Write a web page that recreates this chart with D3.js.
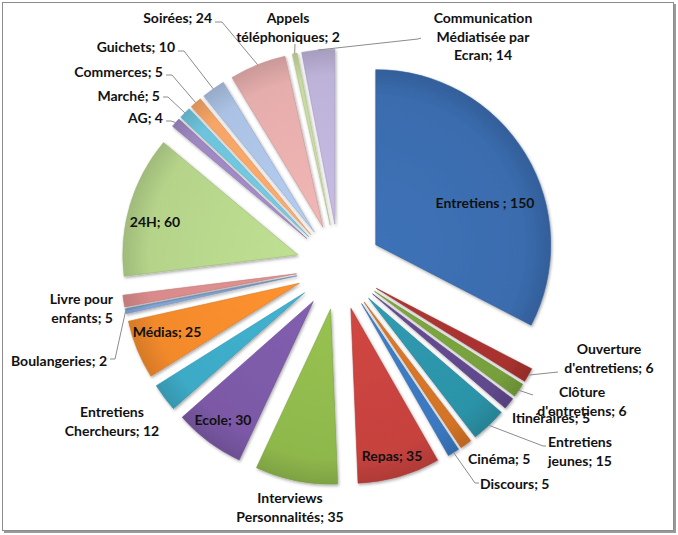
<!DOCTYPE html>
<html><head><meta charset="utf-8">
<script src="https://cdn.jsdelivr.net/npm/d3@7"></script>
<style>
html,body{margin:0;padding:0;background:#fff;}
svg{display:block;}
text{font-family:Lato,"Open Sans",sans-serif;font-weight:bold;font-size:14px;fill:#111;}
</style></head>
<body>
<svg id="chart" width="678" height="535"></svg>
<script>
const categories = ["Entretiens","Ouverture d'entretiens","Clôture d'entretiens","Itinéraires","Entretiens jeunes","Cinéma","Discours","Repas","Interviews Personnalités","Ecole","Entretiens Chercheurs","Médias","Boulangeries","Livre pour enfants","24H","AG","Marché","Commerces","Guichets","Soirées","Appels téléphoniques","Communication Médiatisée par Ecran"];
const values = [150,6,6,5,15,5,5,35,35,30,12,25,2,5,60,4,5,5,10,24,2,14];
const labelTexts = [["Entretiens ; 150"],["Ouverture","d'entretiens; 6"],["Clôture","d'entretiens; 6"],["Itinéraires; 5"],["Entretiens","jeunes; 15"],["Cinéma; 5"],["Discours; 5"],["Repas; 35"],["Interviews","Personnalités; 35"],["Ecole; 30"],["Entretiens","Chercheurs; 12"],["Médias; 25"],["Boulangeries; 2"],["Livre pour","enfants; 5"],["24H; 60"],["AG; 4"],["Marché; 5"],["Commerces; 5"],["Guichets; 10"],["Soirées; 24"],["Appels","téléphoniques; 2"],["Communication","Médiatisée par","Ecran; 14"]];

// style: colours
const colors = ["#3A6CAE","#A8322F","#77A03C","#61488C","#2C93A8","#D47326","#3A78C0","#C6423E","#8FB84C","#7B59A6","#3DAAC6","#F38A2C","#86A9D9","#D98A8A","#B5D48A","#9E88C2","#6DC4DC","#F7A566","#ABC2E4","#E5ADAC","#C6DA9E","#BDB2D8"];

// layout: label placement [x, y(first line centre), anchor, leader end point or null]
const labelLayout = [
  [485,202,"middle",null],
  [609,348,"middle",[[558,372]]],
  [582,391,"middle",[[533,395]]],
  [512,417,"start",null],
  [580,441,"middle",[[543,446],[546,446]]],
  [468,458,"start",null],
  [480,483,"start",[[475,483],[479,483]]],
  [392,455,"middle",null],
  [290,497,"middle",null],
  [223,419,"middle",null],
  [112,411,"middle",null],
  [167,331,"middle",null],
  [107,360,"end",[[115,359],[110,359]]],
  [113,298,"end",null],
  [155,221,"middle",null],
  [163,117,"end",[[171,121],[166,121]]],
  [160,95,"end",[[168,97],[163,97]]],
  [163,71,"end",[[172,75],[166,75]]],
  [175,46,"end",[[184,51],[178,51]]],
  [212,17,"end",[[222,22],[215,22]]],
  [288,17,"middle",[[295,44]]],
  [483,17,"middle",[[418,39],[421,38]]]
];

const W = 678, H = 535;
const cx = 339, cy = 267, R = 175, explode = 43, lineH = 18.5;
const svg = d3.select("#chart");

// frame with shadow
svg.append("rect").attr("x",4).attr("y",4).attr("width",672).attr("height",529).attr("fill","#9a9a9a");
svg.append("rect").attr("x",2.5).attr("y",2.5).attr("width",671).attr("height",528).attr("fill","#fff").attr("stroke","#8c8c8c").attr("stroke-width",1);

const defs = svg.append("defs");
const f = defs.append("filter").attr("id","sh").attr("x","-20%").attr("y","-20%").attr("width","140%").attr("height","140%");
f.append("feDropShadow").attr("dx",1).attr("dy",1.5).attr("stdDeviation",1.5).attr("flood-color","#000").attr("flood-opacity",0.35);

const data = categories.map((c,i)=>({name:c,value:values[i],i}));
const pie = d3.pie().sort(null).value(d=>d.value).startAngle(0).endAngle(2*Math.PI);
const arcs = pie(data);
const arc = d3.arc().innerRadius(0).outerRadius(R);

arcs.forEach((a,i)=>{
  const g = defs.append("radialGradient").attr("id","g"+i).attr("gradientUnits","userSpaceOnUse")
    .attr("cx",0).attr("cy",0).attr("r",R);
  const c = d3.color(colors[i]);
  g.append("stop").attr("offset","0%").attr("stop-color",c.brighter(0.15));
  g.append("stop").attr("offset","85%").attr("stop-color",c);
  g.append("stop").attr("offset","100%").attr("stop-color",c.darker(0.35));
});

const gPie = svg.append("g").attr("transform",`translate(${cx},${cy})`);
gPie.selectAll("path").data(arcs).join("path")
  .attr("transform",d=>{const m=(d.startAngle+d.endAngle)/2;return `translate(${explode*Math.sin(m)},${-explode*Math.cos(m)})`;})
  .attr("d",arc)
  .attr("fill",(d,i)=>`url(#g${i})`)
  .attr("stroke",(d,i)=>d3.color(colors[i]).darker(0.4))
  .attr("stroke-width",0.6)
  .attr("stroke-linejoin","round")
  .attr("filter","url(#sh)");

// leader lines
arcs.forEach((a,i)=>{
  const L = labelLayout[i];
  if(!L[3]) return;
  const m=(a.startAngle+a.endAngle)/2;
  const rr = R+explode;
  const p0=[cx+rr*Math.sin(m), cy-rr*Math.cos(m)];
  const pts=[p0].concat(L[3]);
  svg.append("path").attr("d",d3.line()(pts)).attr("fill","none").attr("stroke","#8c8c8c").attr("stroke-width",1);
});

// labels
arcs.forEach((a,i)=>{
  const L = labelLayout[i];
  const t = svg.append("text").attr("text-anchor",L[2]).attr("dominant-baseline","central");
  labelTexts[i].forEach((s,k)=>{
    t.append("tspan").attr("x",L[0]).attr("y",L[1]+k*lineH).text(s);
  });
});
</script>
</body></html>
